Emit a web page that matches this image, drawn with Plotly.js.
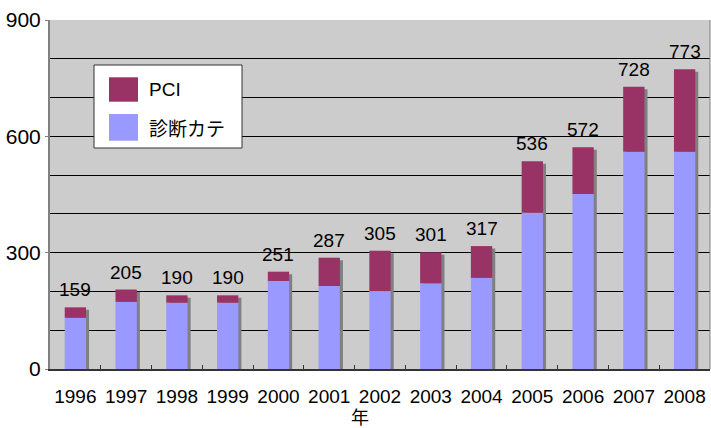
<!DOCTYPE html>
<html>
<head>
<meta charset="utf-8">
<script src="https://cdn.plot.ly/plotly-3.0.1.min.js"></script>
<style>html,body{margin:0;padding:0;background:#fff;}#chart{width:711px;height:428px;}</style>
</head>
<body>
<div id="chart"></div>
<script>
const years = ['1996','1997','1998','1999','2000','2001','2002','2003','2004','2005','2006','2007','2008'];
const diagCath = [132, 173, 171, 171, 227, 214, 201, 221, 235, 403, 451, 560, 560];
const pci = [27, 32, 19, 19, 24, 73, 104, 80, 82, 133, 121, 168, 213];
const seriesNames = ['PCI', '診断カテ'];
const xTitle = '年';

const totals = diagCath.map((d, i) => d + pci[i]);
const FONT = 'Liberation Sans, Arial, Noto Sans CJK JP, sans-serif';
const JFONT = 'Noto Sans CJK JP, sans-serif';
const W = 0.42;

const shadow = {
  type: 'bar', x: years, y: totals, base: years.map(() => -6.5),
  width: W, offset: -W / 2 + 0.06,
  marker: {color: '#808080', line: {width: 0}},
  hoverinfo: 'skip', showlegend: false
};
const diag = {
  type: 'bar', x: years, y: diagCath, base: years.map(() => 0),
  width: W, offset: -W / 2, name: seriesNames[1],
  marker: {color: '#9999ff', line: {width: 0}}, showlegend: false
};
const pciTrace = {
  type: 'bar', x: years, y: pci, base: diagCath,
  width: W, offset: -W / 2, name: seriesNames[0],
  marker: {color: '#993366', line: {width: 0}}, showlegend: false
};

const px = v => (v - 50) / 660;
const py = v => (369 - v) / 349;

const annotations = years.map((yr, i) => ({
  x: i, y: totals[i], xref: 'x', yref: 'y', text: String(totals[i]),
  showarrow: false, yanchor: 'bottom', yshift: 5,
  font: {family: FONT, size: 19, color: '#000'}
}));
annotations.push({
  x: px(360), y: py(416), xref: 'paper', yref: 'paper', text: xTitle,
  showarrow: false, xanchor: 'center', yanchor: 'middle',
  font: {family: JFONT, size: 18, color: '#000'}
});
annotations.push({x: px(147), y: py(89), xref: 'paper', yref: 'paper', text: seriesNames[0],
  showarrow: false, xanchor: 'left', yanchor: 'middle',
  font: {family: FONT, size: 19, color: '#000'}});
annotations.push({x: px(147), y: py(127), xref: 'paper', yref: 'paper', text: seriesNames[1],
  showarrow: false, xanchor: 'left', yanchor: 'middle',
  font: {family: JFONT, size: 19, color: '#000'}});

const shapes = [
  {type: 'rect', xref: 'paper', yref: 'paper', x0: px(94), x1: px(242), y0: py(148), y1: py(65),
   fillcolor: '#ffffff', line: {color: '#333333', width: 1}},
  {type: 'rect', xref: 'paper', yref: 'paper', x0: px(109), x1: px(138), y0: py(101.7), y1: py(77.3),
   fillcolor: '#993366', line: {width: 0}},
  {type: 'rect', xref: 'paper', yref: 'paper', x0: px(109), x1: px(138), y0: py(140.7), y1: py(114),
   fillcolor: '#9999ff', line: {width: 0}},
  {type: 'line', xref: 'paper', yref: 'paper', x0: 1, x1: 1, y0: 0, y1: 1,
   line: {color: '#808080', width: 1}, layer: 'above'}
];

const layout = {
  width: 711, height: 428,
  margin: {l: 50, r: 1, t: 20, b: 59},
  paper_bgcolor: '#ffffff', plot_bgcolor: '#cccccc',
  barmode: 'overlay',
  showlegend: false,
  font: {family: FONT, color: '#000'},
  xaxis: {
    type: 'category', showgrid: false, range: [-0.5, 12.5],
    showline: true, linecolor: '#333333', linewidth: 2,
    ticks: 'inside', tickson: 'boundaries', ticklen: 4, tickcolor: '#333333',
    tickfont: {family: FONT, size: 19, color: '#000'},
    tickangle: 0, ticklabelstandoff: 9,
    zeroline: false, fixedrange: true
  },
  yaxis: {
    range: [0, 900], tickvals: [0, 300, 600, 900],
    showgrid: true, gridcolor: '#000000', gridwidth: 1,
    minor: {dtick: 100, showgrid: true, gridcolor: '#000000', gridwidth: 1},
    showline: true, linecolor: '#808080', linewidth: 2,
    ticks: 'outside', ticklen: 3, tickcolor: '#808080',
    tickfont: {family: FONT, size: 21, color: '#000'},
    zeroline: false, fixedrange: true
  },
  annotations: annotations,
  shapes: shapes
};

Plotly.newPlot('chart', [shadow, diag, pciTrace], layout, {staticPlot: true, displayModeBar: false});
</script>
</body>
</html>
